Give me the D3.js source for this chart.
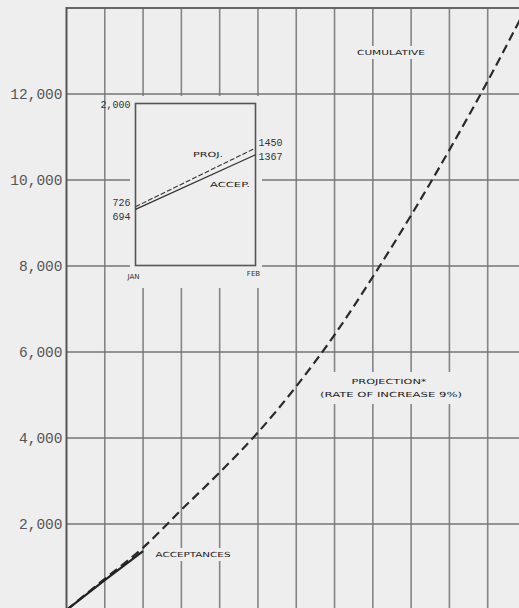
<!DOCTYPE html>
<html><head><meta charset="utf-8">
<script src="https://cdn.jsdelivr.net/npm/d3@7"></script>
<style>html,body{margin:0;padding:0;background:#eeeeee;overflow:hidden}</style>
</head><body><svg id="c" width="519" height="608"></svg>
<script>
// ---- data ----
const months = [0,1,2,3,4,5,6,7,8,9,10,11,12];
const projection = [0,726,1450,2330,3200,4130,5200,6400,7750,9180,10700,12300,14000];
const acceptanceMonths = [0,1,2];
const acceptances = [0,694,1367];
const yTicks = [2000,4000,6000,8000,10000,12000];
const insetLabels = ["JAN","FEB"];
const insetProj = [726,1450];
const insetAccep = [694,1367];
const insetTop = 2000;

const svg = d3.select("#c");
const bg = "#eeeeee";
svg.append("rect").attr("width",519).attr("height",608).attr("fill",bg);

const x = d3.scaleLinear().domain([0,12]).range([66.5,526]);
const y = d3.scaleLinear().domain([0,14000]).range([610,8]);

const g = svg.append("g");
// vertical grid
g.selectAll(".vg").data(months.slice(1)).join("line")
  .attr("x1",d=>x(d)).attr("x2",d=>x(d)).attr("y1",y(14000)).attr("y2",y(0))
  .attr("stroke","#858585").attr("stroke-width",1.6);
// horizontal grid
g.selectAll(".hg").data(yTicks).join("line")
  .attr("x1",x(0)).attr("x2",x(12)).attr("y1",d=>y(d)).attr("y2",d=>y(d))
  .attr("stroke","#757575").attr("stroke-width",1.6);
// top border
g.append("line").attr("x1",x(0)).attr("x2",x(12)).attr("y1",y(14000)).attr("y2",y(14000))
  .attr("stroke","#666").attr("stroke-width",1.8);
// y axis
const yAxis = d3.axisLeft(y).tickValues(yTicks).tickSize(0).tickPadding(4)
  .tickFormat(d3.format(","));
const ax = svg.append("g").attr("transform",`translate(${x(0)},0)`).call(yAxis);
ax.select(".domain").remove();
ax.selectAll("text").attr("font-family","Liberation Mono, DejaVu Sans Mono, monospace")
  .attr("font-size",14.5).attr("fill","#555");
svg.append("line").attr("x1",x(0)).attr("x2",x(0)).attr("y1",y(14000)-1).attr("y2",y(0))
  .attr("stroke","#555").attr("stroke-width",2);

// label masks + labels
const lab = {font:"DejaVu Sans, sans-serif", size:7, fill:"#1a1a1a"};
function label(t, cx, cy, w){
  svg.append("rect").attr("x",cx-w/2-3).attr("y",cy-7).attr("width",w+6).attr("height",13).attr("fill",bg);
  svg.append("text").attr("x",cx).attr("y",cy).attr("dy","0.35em").attr("text-anchor","middle")
    .attr("font-family",lab.font).attr("font-size",lab.size).attr("fill",lab.fill)
    .attr("textLength",w).attr("lengthAdjust","spacingAndGlyphs").text(t);
}
label("CUMULATIVE", 391, 53, 68);
svg.append("rect").attr("x",316).attr("y",372).attr("width",150).attr("height",32).attr("fill",bg);
label("PROJECTION*", 389, 382, 75);
label("(RATE OF INCREASE 9%)", 391, 395, 142);
label("ACCEPTANCES", 193, 555, 75);

// main lines
const line = d3.line().x(d=>x(d[0])).y(d=>y(d[1])).curve(d3.curveMonotoneX);
svg.append("path").datum(months.map((m,i)=>[m,projection[i]]))
  .attr("d",line).attr("fill","none").attr("stroke","#2a2a2a").attr("stroke-width",2.2)
  .attr("stroke-dasharray","9,5");
svg.append("path").datum(acceptanceMonths.map((m,i)=>[m,acceptances[i]]))
  .attr("d",d3.line().x(d=>x(d[0])).y(d=>y(d[1]))).attr("fill","none")
  .attr("stroke","#222").attr("stroke-width",2.2);

// inset
const ib = {l:135.5, r:255.5, t:103.5, b:265.5};
svg.append("rect").attr("x",130).attr("y",96).attr("width",132).attr("height",192).attr("fill",bg);
const ix = d3.scalePoint().domain(insetLabels).range([ib.l, ib.r]);
const iy = d3.scaleLinear().domain([0,insetTop]).range([ib.b, ib.t]);
svg.append("rect").attr("x",ib.l).attr("y",ib.t).attr("width",ib.r-ib.l).attr("height",ib.b-ib.t)
  .attr("fill","none").attr("stroke","#555").attr("stroke-width",1.6);
const iline = d3.line().x(d=>ix(d[0])).y(d=>iy(d[1]));
svg.append("path").datum(insetLabels.map((m,i)=>[m,insetAccep[i]])).attr("d",iline)
  .attr("fill","none").attr("stroke","#333").attr("stroke-width",1.3);
svg.append("path").datum(insetLabels.map((m,i)=>[m,insetProj[i]])).attr("d",iline)
  .attr("fill","none").attr("stroke","#333").attr("stroke-width",1.1).attr("stroke-dasharray","5,2");
const mono = "Liberation Mono, DejaVu Sans Mono, monospace";
function itext(t, xx, yy, anchor, size, fam){
  svg.append("text").attr("x",xx).attr("y",yy).attr("dy","0.35em").attr("text-anchor",anchor)
    .attr("font-family",fam||mono).attr("font-size",size||10).attr("fill","#333").text(t);
}
itext(d3.format(",")(insetTop), ib.l-5, iy(insetTop)+1, "end", 10);
itext(String(insetProj[0]), ib.l-5, iy(insetProj[0])-4, "end", 10);
itext(String(insetAccep[0]), ib.l-5, iy(insetAccep[0])+7, "end", 10);
itext(String(insetProj[1]), ib.r+3, iy(insetProj[1])-6, "start", 10);
itext(String(insetAccep[1]), ib.r+3, iy(insetAccep[1])+2, "start", 10);
itext(insetLabels[0], ix(insetLabels[0])-2, ib.b+11, "middle", 7, "DejaVu Sans, sans-serif");
itext(insetLabels[1], ix(insetLabels[1])-2, ib.b+8, "middle", 7, "DejaVu Sans, sans-serif");
svg.append("text").attr("x",208).attr("y",155).attr("dy","0.35em").attr("text-anchor","middle")
  .attr("font-family","DejaVu Sans, sans-serif").attr("font-size",7).attr("fill","#1a1a1a")
  .attr("textLength",30).attr("lengthAdjust","spacingAndGlyphs").text("PROJ.");
svg.append("text").attr("x",230).attr("y",185).attr("dy","0.35em").attr("text-anchor","middle")
  .attr("font-family","DejaVu Sans, sans-serif").attr("font-size",7).attr("fill","#1a1a1a")
  .attr("textLength",40).attr("lengthAdjust","spacingAndGlyphs").text("ACCEP.");
</script></body></html>
